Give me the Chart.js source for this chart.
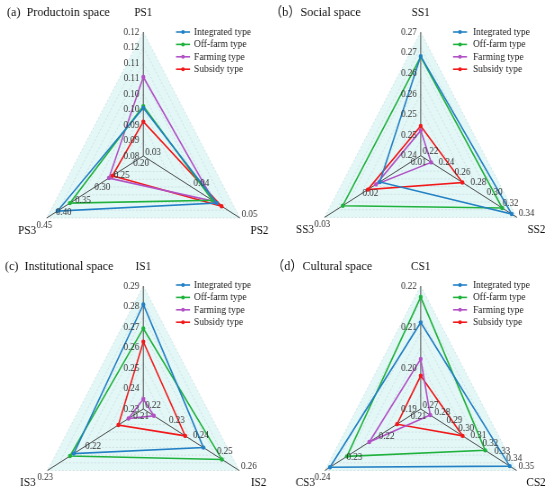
<!DOCTYPE html>
<html>
<head>
<meta charset="utf-8">
<script src="https://cdn.jsdelivr.net/npm/chart.js@4.4.0/dist/chart.umd.min.js"></script>
<style>
body { margin: 0; background: #fff; width: 550px; height: 493px; overflow: hidden; position: relative; }
.panel { position: absolute; width: 275px; height: 248px; overflow: hidden; }
.inner { width: 306px; height: 248px; transform: scaleX(0.9); transform-origin: 0 0; }
</style>
</head>
<body>
<div class="panel" style="left:0;top:0"><div class="inner"><canvas id="chartA"></canvas></div></div>
<div class="panel" style="left:275px;top:0"><div class="inner"><canvas id="chartB"></canvas></div></div>
<div class="panel" style="left:0;top:245px"><div class="inner"><canvas id="chartC"></canvas></div></div>
<div class="panel" style="left:275px;top:245px"><div class="inner"><canvas id="chartD"></canvas></div></div>
<script>
// series names (same four household types in every panel)
const typeNames = ['Integrated type', 'Off-farm type', 'Farming type', 'Subsidy type'];

// (a) production space
const psAxes = ['PS1', 'PS2', 'PS3'];
const psRange = [[0.08, 0.12], [0.03, 0.05], [0.20, 0.45]];
const psTicks = [
  ['0.08', '0.09', '0.09', '0.10', '0.10', '0.11', '0.11', '0.12', '0.12'],
  ['0.03', '0.04', '0.05'],
  ['0.20', '0.25', '0.30', '0.35', '0.40', '0.45']
];
const psIntegrated = [0.0955, 0.0452, 0.422];
const psOffFarm = [0.0961, 0.0443, 0.390];
const psFarming = [0.1055, 0.0446, 0.289];
const psSubsidy = [0.0911, 0.0462, 0.280];

// (b) social space
const ssAxes = ['SS1', 'SS2', 'SS3'];
const ssRange = [[0.24, 0.27], [0.22, 0.34], [0.01, 0.03]];
const ssTicks = [
  ['0.24', '0.25', '0.25', '0.26', '0.26', '0.27', '0.27'],
  ['0.22', '0.24', '0.26', '0.28', '0.30', '0.32', '0.34'],
  ['0.01', '0.02', '0.03']
];
const ssIntegrated = [0.2642, 0.3334, 0.0185];
const ssOffFarm = [0.2640, 0.3216, 0.0262];
const ssFarming = [0.2461, 0.2330, 0.0193];
const ssSubsidy = [0.2472, 0.2720, 0.0210];

// (c) institutional space
const isAxes = ['IS1', 'IS2', 'IS3'];
const isRange = [[0.23, 0.29], [0.22, 0.26], [0.21, 0.23]];
const isTicks = [
  ['0.23', '0.24', '0.25', '0.26', '0.27', '0.28', '0.29'],
  ['0.22', '0.23', '0.24', '0.25', '0.26'],
  ['0.21', '0.22', '0.23']
];
const isIntegrated = [0.2810, 0.2451, 0.2245];
const isOffFarm = [0.2693, 0.2528, 0.2253];
const isFarming = [0.2349, 0.2244, 0.2131];
const isSubsidy = [0.2628, 0.2375, 0.2152];

// (d) cultural space
const csAxes = ['CS1', 'CS2', 'CS3'];
const csRange = [[0.19, 0.22], [0.27, 0.35], [0.21, 0.24]];
const csTicks = [
  ['0.19', '0.20', '0.21', '0.22'],
  ['0.27', '0.28', '0.29', '0.30', '0.31', '0.32', '0.33', '0.34', '0.35'],
  ['0.21', '0.22', '0.23', '0.24']
];
const csIntegrated = [0.2111, 0.3443, 0.2384];
const csOffFarm = [0.2173, 0.3238, 0.2331];
const csFarming = [0.2022, 0.2779, 0.2261];
const csSubsidy = [0.1981, 0.3050, 0.2174];

const colors = ['#2280c4', '#1fb23c', '#b251c6', '#f2191b'];
const SX = 0.9; // the panels are squeezed horizontally like the original figure
const serif = "'Liberation Serif', 'Times New Roman', 'Noto Sans CJK SC', serif";

function makeRadar(id, title, axes, range, ticks, series, lay) {
  // each axis has its own range, so map values onto 0..1 of the radial scale
  const norm = vals => vals.map((v, i) => (v - range[i][0]) / (range[i][1] - range[i][0]));

  const decor = {
    id: 'decor',
    beforeDraw(chart) {
      const r = chart.scales.r, ctx = chart.ctx;
      ctx.save();
      ctx.beginPath();
      axes.forEach((a, i) => {
        const p = r.getPointPosition(i, r.drawingArea);
        if (i) ctx.lineTo(p.x, p.y); else ctx.moveTo(p.x, p.y);
      });
      ctx.closePath();
      ctx.fillStyle = '#e4f7f7';
      ctx.fill();
      ctx.restore();
    },
    afterDatasetsDraw(chart) {
      const r = chart.scales.r, ctx = chart.ctx;
      ctx.save();
      ctx.font = '10px ' + serif;
      ctx.fillStyle = '#333';
      ctx.textBaseline = 'middle';
      ticks.forEach((labels, i) => {
        labels.forEach((t, k) => {
          const p = r.getPointPositionForValue(i, k / (labels.length - 1));
          if (i === 0) { ctx.textAlign = 'right'; ctx.fillText(t, p.x - 4.5, p.y); }
          else if (i === 1) { ctx.textAlign = 'left'; ctx.fillText(t, p.x + 2, p.y - 4); }
          else { ctx.textAlign = 'center'; ctx.fillText(t, p.x - 2.5, p.y + 7); }
        });
      });
      ctx.restore();
    },
    afterDraw(chart) {
      const r = chart.scales.r, ctx = chart.ctx;
      ctx.save();
      // panel title
      ctx.fillStyle = '#111';
      ctx.textBaseline = 'middle';
      ctx.textAlign = 'left';
      ctx.font = '13.5px ' + serif;
      ctx.fillText(title, lay.titleX / SX, lay.titleY);
      // axis names
      ctx.font = '12.5px ' + serif;
      ctx.textAlign = 'center';
      axes.forEach((a, i) => {
        const p = r.getPointPosition(i, r.drawingArea + (i === 0 ? 19 : 25));
        ctx.fillText(a, p.x, p.y);
      });
      // legend
      ctx.font = '10.5px ' + serif;
      ctx.textAlign = 'left';
      chart.data.datasets.forEach((ds, k) => {
        const y = lay.legY + k * 12.4;
        const x0 = lay.legX / SX, x1 = (lay.legX + 14) / SX;
        ctx.strokeStyle = ds.borderColor;
        ctx.lineWidth = 1.6;
        ctx.beginPath();
        ctx.moveTo(x0, y);
        ctx.lineTo(x1, y);
        ctx.stroke();
        ctx.fillStyle = ds.borderColor;
        ctx.beginPath();
        ctx.arc((x0 + x1) / 2, y, 2, 0, Math.PI * 2);
        ctx.fill();
        ctx.fillStyle = '#222';
        ctx.fillText(ds.label, lay.legTextX / SX, y);
      });
      ctx.restore();
    }
  };

  return new Chart(document.getElementById(id), {
    type: 'radar',
    data: {
      labels: axes,
      datasets: series.map((s, k) => ({
        label: typeNames[k],
        data: norm(s),
        borderColor: colors[k],
        backgroundColor: colors[k],
        pointBackgroundColor: colors[k],
        borderWidth: 1.6,
        pointRadius: 2.2,
        pointBorderWidth: 0,
        fill: false
      }))
    },
    options: {
      responsive: true,
      maintainAspectRatio: false,
      animation: false,
      layout: { padding: 0 },
      plugins: { legend: { display: false }, tooltip: { enabled: false } },
      scales: {
        r: {
          min: 0,
          max: 1,
          ticks: { display: false, stepSize: 0.125 },
          pointLabels: { display: false },
          grid: { color: '#c6d9db', lineWidth: 0.7 },
          border: { dash: [2, 2] },
          angleLines: { color: '#4a4a4a', lineWidth: 1 },
          afterFit(s) {
            s.xCenter = lay.cx / SX;
            s.yCenter = lay.cy;
            s.drawingArea = lay.R;
          }
        }
      }
    },
    plugins: [decor]
  });
}

makeRadar('chartA', '(a)  Productoin space', psAxes, psRange, psTicks,
  [psIntegrated, psOffFarm, psFarming, psSubsidy],
  { cx: 143.3, cy: 156, R: 124, titleX: 7, titleY: 12, legX: 176, legTextX: 194, legY: 32 });
makeRadar('chartB', '（b）Social space', ssAxes, ssRange, ssTicks,
  [ssIntegrated, ssOffFarm, ssFarming, ssSubsidy],
  { cx: 145.7, cy: 155.7, R: 123.5, titleX: -5, titleY: 12, legX: 178, legTextX: 198, legY: 32 });
makeRadar('chartC', '(c)  Institutional space', isAxes, isRange, isTicks,
  [isIntegrated, isOffFarm, isFarming, isSubsidy],
  { cx: 143.3, cy: 164, R: 123, titleX: 5, titleY: 21, legX: 176, legTextX: 194, legY: 40 });
makeRadar('chartD', '（d）Cultural space', csAxes, csRange, csTicks,
  [csIntegrated, csOffFarm, csFarming, csSubsidy],
  { cx: 145.7, cy: 164, R: 123, titleX: -3, titleY: 21, legX: 178, legTextX: 198, legY: 40 });
</script>
</body>
</html>
